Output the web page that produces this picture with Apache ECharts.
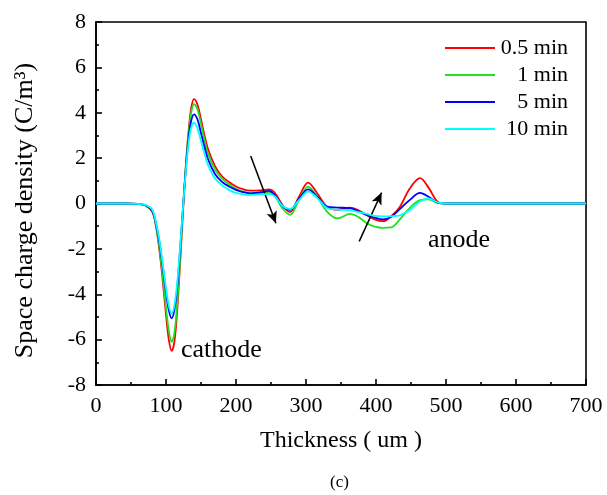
<!DOCTYPE html>
<html>
<head>
<meta charset="utf-8">
<script src="https://cdn.jsdelivr.net/npm/echarts@6/dist/echarts.min.js"></script>
<style>html,body{margin:0;padding:0;background:#fff;}#c{width:607px;height:495px;}</style>
</head>
<body>
<div id="c"></div>
<script>
var thickness = [0, 40, 60, 70, 80, 85, 90, 95, 100, 104, 108, 112, 116, 120, 124, 128, 132, 136, 140, 145, 150, 155, 160, 170, 180, 190, 200, 210, 220, 235, 247, 256, 266, 277, 290, 303, 316, 330, 345, 363, 375, 387, 398, 410, 422, 434, 448, 463, 475, 488, 500, 550, 600, 650, 700];
var seriesNames = ['0.5 min', '1 min', '5 min', '10 min'];
var min05 = [0, 0, -0.02, -0.08, -0.35, -0.9, -1.9, -3.3, -4.9, -6.0, -6.5, -6.1, -4.7, -2.7, -0.5, 1.5, 3.1, 4.2, 4.6, 4.35, 3.7, 3.0, 2.4, 1.65, 1.2, 0.95, 0.75, 0.63, 0.57, 0.58, 0.62, 0.45, -0.05, -0.38, 0.3, 0.92, 0.45, -0.15, -0.28, -0.18, -0.3, -0.52, -0.7, -0.78, -0.55, -0.15, 0.65, 1.12, 0.7, 0.08, 0, 0, 0, 0, 0];
var min1 = [0, 0, -0.02, -0.07, -0.3, -0.85, -1.8, -3.1, -4.6, -5.6, -6.1, -5.7, -4.4, -2.5, -0.4, 1.5, 3.0, 4.0, 4.38, 4.15, 3.5, 2.8, 2.2, 1.5, 1.1, 0.85, 0.65, 0.52, 0.46, 0.46, 0.47, 0.3, -0.2, -0.5, 0.15, 0.74, 0.3, -0.36, -0.66, -0.46, -0.6, -0.87, -1.02, -1.07, -1.05, -0.7, -0.2, 0.15, 0.18, 0.03, 0, 0, 0, 0, 0];
var min5 = [0, 0, -0.02, -0.07, -0.3, -0.8, -1.6, -2.7, -3.9, -4.7, -5.06, -4.7, -3.7, -2.1, -0.3, 1.4, 2.8, 3.65, 3.93, 3.7, 3.1, 2.5, 1.95, 1.3, 0.95, 0.75, 0.6, 0.5, 0.45, 0.5, 0.56, 0.35, -0.1, -0.28, 0.2, 0.62, 0.3, -0.14, -0.18, -0.2, -0.35, -0.51, -0.62, -0.7, -0.58, -0.25, 0.15, 0.47, 0.3, 0.04, 0, 0, 0, 0, 0];
var min10 = [0, 0, -0.02, -0.06, -0.25, -0.75, -1.5, -2.6, -3.75, -4.5, -4.85, -4.5, -3.5, -2.0, -0.3, 1.3, 2.6, 3.35, 3.56, 3.3, 2.75, 2.2, 1.7, 1.1, 0.8, 0.6, 0.47, 0.4, 0.37, 0.4, 0.42, 0.3, -0.1, -0.25, 0.15, 0.52, 0.25, -0.2, -0.27, -0.29, -0.38, -0.46, -0.55, -0.57, -0.56, -0.52, -0.3, 0.1, 0.22, 0.05, 0, 0, 0, 0, 0];
var xTicks = [0, 100, 200, 300, 400, 500, 600, 700];
var yTicks = [-8, -6, -4, -2, 0, 2, 4, 6, 8];
var arrowDown = [[221, 2.09], [257, -0.87]];
var arrowUp = [[376, -1.67], [408, 0.48]];

var colors = ['#ff0000', '#22e022', '#0000ff', '#00ffff'];
var allData = [min05, min1, min5, min10];
var font = '"Liberation Serif", "Times New Roman", serif';

function pairs(ys) { return thickness.map(function (x, i) { return [x, ys[i]]; }); }

var series = allData.map(function (d, i) {
  return {
    name: seriesNames[i], type: 'line', data: pairs(d), smooth: 0.35, showSymbol: false,
    lineStyle: { color: colors[i], width: 1.8 }, itemStyle: { color: colors[i] }, z: 2 + i
  };
});
series[0].markLine = {
  silent: true, symbol: ['none', 'arrow'], symbolSize: [8, 12],
  lineStyle: { color: '#000', width: 1.5, type: 'solid' }, label: { show: false },
  data: [
    [{ coord: arrowDown[0] }, { coord: arrowDown[1] }],
    [{ coord: arrowUp[0] }, { coord: arrowUp[1] }]
  ]
};

var chart = echarts.init(document.getElementById('c'), null, { renderer: 'canvas' });
chart.setOption({
  animation: false,
  backgroundColor: '#fff',
  grid: { left: 96, right: 21, top: 22, bottom: 110, show: true, borderColor: '#000', borderWidth: 1.6, backgroundColor: 'transparent' },
  legend: {
    orient: 'vertical', left: 440, top: 32, itemWidth: 50, itemHeight: 2, itemGap: 5,
    icon: 'rect', data: seriesNames.map(function (n, i) { return { name: n, itemStyle: { color: colors[i] } }; }),
    formatter: function (n) { return '{a|' + n + '}'; },
    textStyle: { fontFamily: font, fontSize: 22, color: '#000', rich: { a: { width: 68, align: 'right', fontFamily: font, fontSize: 22, color: '#000' } } }
  },
  xAxis: {
    type: 'value', min: 0, max: 700, interval: 100,
    name: 'Thickness ( um )', nameLocation: 'middle', nameGap: 44,
    nameTextStyle: { fontFamily: font, fontSize: 24, color: '#000' },
    axisLine: { show: true, onZero: false, lineStyle: { color: '#000', width: 1.6 } },
    axisTick: { show: true, inside: true, length: 6, lineStyle: { color: '#000', width: 1.6 } },
    minorTick: { show: true, splitNumber: 2, length: 3, lineStyle: { color: '#000', width: 1.6 } },
    axisLabel: { fontFamily: font, fontSize: 22, color: '#000', margin: 10 },
    splitLine: { show: false }
  },
  yAxis: {
    type: 'value', min: -8, max: 8, interval: 2,
    name: 'Space charge density (C/m\u00b3)', nameLocation: 'middle', nameGap: 58,
    nameTextStyle: { fontFamily: font, fontSize: 26, color: '#000', padding: [0, 14, 0, 0] },
    axisLine: { show: true, onZero: false, lineStyle: { color: '#000', width: 1.6 } },
    axisTick: { show: true, inside: true, length: 6, lineStyle: { color: '#000', width: 1.6 } },
    minorTick: { show: true, splitNumber: 2, length: 3, lineStyle: { color: '#000', width: 1.6 } },
    axisLabel: { fontFamily: font, fontSize: 22, color: '#000', margin: 10 },
    splitLine: { show: false }
  },
  graphic: [
    { type: 'text', left: 181, top: 337, style: { text: 'cathode', font: '26px ' + font, fill: '#000' } },
    { type: 'text', left: 428, top: 227, style: { text: 'anode', font: '26px ' + font, fill: '#000' } },
    { type: 'text', left: 330, top: 474, style: { text: '(c)', font: '17px ' + font, fill: '#000' } }
  ],
  series: series
});
</script>
</body>
</html>
